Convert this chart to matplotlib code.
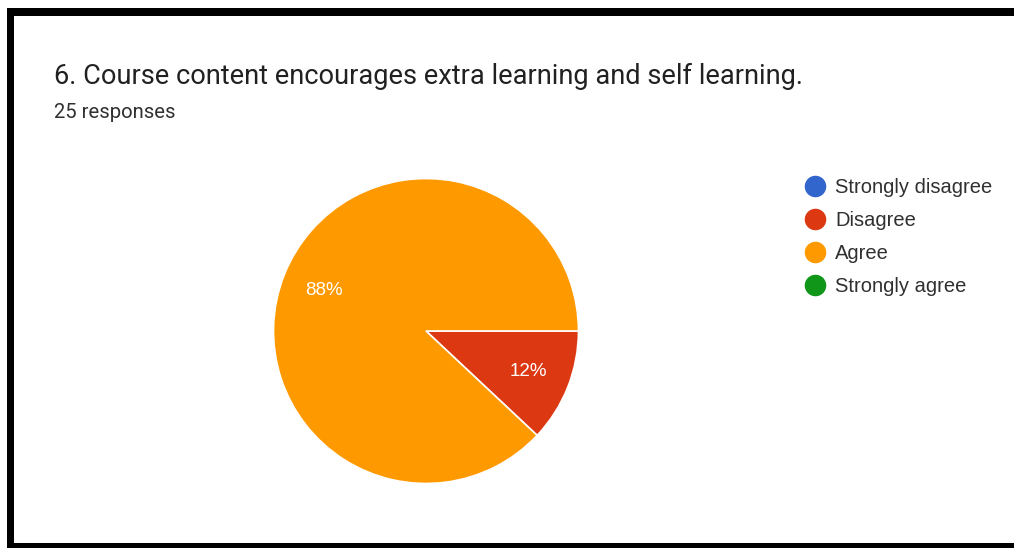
import matplotlib
matplotlib.use("Agg")
import matplotlib.pyplot as plt
from matplotlib.patches import Rectangle
from matplotlib.lines import Line2D

plt.rcParams['font.family'] = ['Roboto', 'DejaVu Sans']

title = "6. Course content encourages extra learning and self learning."
subtitle = "25 responses"
categories = ["Strongly disagree", "Disagree", "Agree", "Strongly agree"]
counts = [0, 3, 22, 0]
colors = ["#3366CC", "#DC3912", "#FF9900", "#109618"]

W, H = 1014, 548
fig = plt.figure(figsize=(W / 100, H / 100), dpi=100)
fig.patch.set_facecolor("white")

def px_rect(x0, y0, x1, y1):
    # pixel coordinates (top-left origin) to figure fraction rect
    return (x0 / W, 1 - y1 / H, (x1 - x0) / W, (y1 - y0) / H)

# black frame
for (x0, y0, x1, y1) in [(7, 8, W, 16), (7, 8, 14, H), (7, 543, W, H)]:
    r = px_rect(x0, y0, x1, y1)
    fig.add_artist(Rectangle((r[0], r[1]), r[2], r[3], transform=fig.transFigure,
                             facecolor="black", edgecolor="none"))

fig.text(54 / W, 1 - 76 / H, title, fontsize=19.6, color="#212121", va="center", ha="left")
fig.text(54 / W, 1 - 112 / H, subtitle, fontsize=14.6, color="#303030", va="center", ha="left")

# pie
cx, cy, rad = 426, 331, 154
ax = fig.add_axes(px_rect(cx - rad, cy - rad, cx + rad, cy + rad))
vals = [c for c in counts if c > 0]
cols = [col for c, col in zip(counts, colors) if c > 0]
wedges, texts, autotexts = ax.pie(vals, colors=cols, startangle=0, counterclock=False,
                                  autopct=lambda p: f"{p:.0f}%", pctdistance=0.72,
                                  wedgeprops=dict(edgecolor="white", linewidth=1.2),
                                  textprops=dict(color="white", fontsize=13.5,
                                                 family=["Liberation Sans", "DejaVu Sans"]),
                                  radius=1.0)
ax.set_xlim(-1.01, 1.01)
ax.set_ylim(-1.01, 1.01)
ax.set_aspect("equal")
ax.axis("off")

handles = [Line2D([0], [0], marker="o", linestyle="none", markersize=14.5,
                  markerfacecolor=c, markeredgecolor=c) for c in colors]
leg = fig.legend(handles, categories, loc="upper left",
                 bbox_to_anchor=(793 / W, 1 - 168 / H), frameon=False,
                 prop=dict(family=["Liberation Sans", "DejaVu Sans"], size=14.5),
                 handletextpad=0.38, labelspacing=0.7,
                 handlelength=1.2, borderpad=0)
for t in leg.get_texts():
    t.set_color("#303030")

fig.savefig("out.png", dpi=100, facecolor="white")
